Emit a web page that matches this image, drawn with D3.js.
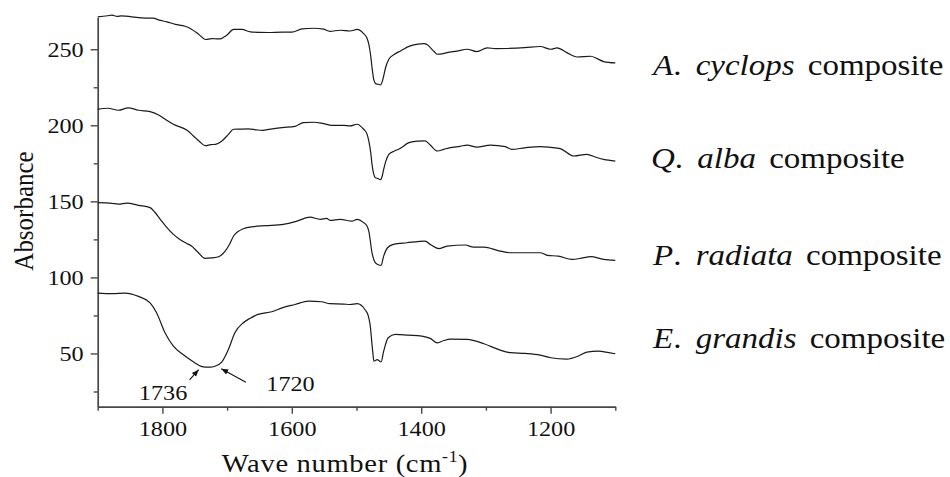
<!DOCTYPE html>
<html>
<head>
<meta charset="utf-8">
<script src="https://cdn.jsdelivr.net/npm/d3@7/dist/d3.min.js"></script>
<style>
  html, body { margin: 0; padding: 0; background: #fff; }
  svg { display: block; font-family: "Liberation Serif", "Times New Roman", serif; }
</style>
</head>
<body>
<svg id="chart" width="950" height="477"></svg>
<script>
// FTIR spectra of four wood–polymer composites (wave number in cm-1, absorbance offset per sample)
const cyclopsWave = [1900,1885,1878,1870,1863,1850,1837,1825,1814,1806,1793,1780,1765,1755,1744,1733,1724,1716,1711,1705,1700,1690,1677,1664,1650,1636,1615,1600,1584,1566,1551,1541,1525,1510,1499,1489,1484,1481,1478,1476,1473,1470,1466,1463,1460,1458,1455,1450,1442,1432,1417,1405,1396,1390,1386,1380,1375,1368,1360,1345,1329,1314,1298,1285,1267,1240,1216,1200,1190,1175,1159,1138,1128,1118,1100];
const cyclopsAbs  = [271.3,272.0,272.4,271.6,271.9,271.5,270.8,270.5,270.4,269.3,268.0,266.4,265.1,263.2,259.9,256.4,257.0,256.8,256.8,258.0,259.4,263.0,263.0,261.4,261.1,261.0,261.3,261.2,263.4,263.8,263.2,261.8,262.5,262.0,263.0,260.3,257.5,253.3,245.5,238.0,229.5,227.2,227.0,226.5,229.0,232.4,238.0,243.4,246.5,248.9,252.2,253.4,253.7,252.8,251.1,248.5,246.7,247.0,247.8,248.8,250.0,248.5,250.9,250.4,250.5,251.0,251.8,250.0,250.9,247.8,244.9,245.4,243.8,241.9,241.0];

const albaWave = [1900,1884,1868,1853,1837,1819,1806,1795,1783,1762,1752,1743,1734,1725,1718,1708,1698,1690,1680,1667,1655,1646,1630,1615,1595,1582,1566,1551,1538,1520,1510,1499,1489,1484,1481,1478,1476,1471,1467,1463,1460,1458,1455,1450,1442,1432,1419,1405,1394,1386,1375,1365,1355,1340,1329,1314,1293,1270,1260,1240,1216,1200,1185,1164,1144,1130,1118,1100];
const albaAbs  = [210.5,211.2,209.9,211.4,209.9,209.0,206.8,203.8,200.7,196.7,193.0,189.5,186.6,187.3,187.5,189.7,194.0,197.4,197.5,197.6,197.0,196.7,197.7,198.5,199.3,201.7,202.0,201.1,200.0,200.0,199.6,200.7,197.4,194.5,189.7,182.0,174.3,165.6,165.0,164.3,167.0,171.0,176.0,180.9,183.0,184.9,188.6,189.6,189.7,187.0,183.1,184.2,185.3,186.2,187.0,185.7,187.0,186.0,184.2,185.2,186.0,185.5,184.7,179.8,180.9,179.0,177.6,176.5];

const radiataWave = [1900,1878,1868,1855,1837,1819,1812,1803,1793,1783,1773,1763,1755,1745,1734,1724,1713,1703,1696,1690,1675,1659,1640,1613,1592,1572,1556,1546,1541,1525,1507,1499,1489,1484,1481,1476,1471,1467,1462,1458,1452,1443,1422,1394,1386,1373,1360,1332,1319,1303,1280,1262,1216,1205,1188,1167,1150,1138,1118,1100];
const radiataAbs  = [149.1,148.7,148.2,148.9,147.4,145.9,143.0,138.0,132.7,128.3,125.0,122.5,120.6,116.5,112.5,112.8,113.6,117.3,122.0,127.2,132.0,133.4,134.0,134.9,137.0,139.6,138.2,138.8,137.5,138.2,137.0,138.2,136.0,134.0,130.5,116.2,109.7,108.5,107.9,114.0,119.5,121.7,122.8,123.9,121.7,118.9,120.6,121.3,119.9,119.9,117.5,116.2,116.2,114.5,114.0,111.8,112.8,113.6,111.8,111.2];

const grandisWave = [1900,1878,1858,1837,1819,1809,1796,1783,1768,1750,1740,1734,1726,1719,1708,1698,1688,1675,1665,1652,1631,1615,1595,1574,1554,1541,1520,1510,1499,1487,1482,1479,1475,1473,1468,1465,1462,1458,1451,1440,1420,1399,1386,1375,1365,1355,1329,1303,1280,1262,1240,1216,1200,1175,1157,1144,1126,1110,1100];
const grandisAbs  = [89.7,89.3,89.7,87.5,83.3,76.8,63.6,54.8,49.3,43.9,41.5,41.0,41.0,41.6,44.5,52.6,63.6,70.2,73.0,75.7,77.4,80.0,82.2,84.4,84.0,82.7,82.5,82.2,82.7,78.9,75.0,69.0,51.5,44.9,46.0,45.2,44.5,51.5,60.3,62.5,62.0,61.4,59.9,57.0,58.5,59.4,59.2,56.4,52.5,50.5,50.0,48.9,47.2,46.3,48.3,50.9,51.5,50.5,49.8];

const sampleGenus   = ["A", "Q", "P", "E"];
const sampleSpecies = ["cyclops", "alba", "radiata", "grandis"];

const waveTicks      = [1800, 1600, 1400, 1200];
const waveMinorTicks = [1900, 1700, 1500, 1300, 1100];
const absTicks       = [50, 100, 150, 200, 250];
const absMinorTicks  = [25, 75, 125, 175, 225];

// carbonyl band positions marked on the E. grandis spectrum
const peakLabels = ["1736", "1720"];

const series = [
  { wave: cyclopsWave, abs: cyclopsAbs },
  { wave: albaWave,    abs: albaAbs },
  { wave: radiataWave, abs: radiataAbs },
  { wave: grandisWave, abs: grandisAbs }
];

const svg = d3.select("#chart");
const plot = { left: 97.7, right: 615.3, top: 17.3, bottom: 406.7 };
const stretch = 1.1;   // slightly wide type, as in the printed figure

const x = d3.scaleLinear().domain([1900, 1100]).range([plot.left, plot.right]);
const y = d3.scaleLinear().domain([15, 271]).range([plot.bottom, plot.top]);

const axisColor = "#474747";

// ---- axes ----
function styleAxis(g) {
  g.select(".domain").attr("stroke", axisColor).attr("stroke-width", 1.7);
  g.selectAll(".tick line").attr("stroke", axisColor).attr("stroke-width", 1.4);
}

const xAxisG = svg.append("g")
  .attr("transform", `translate(0,${plot.bottom})`)
  .call(d3.axisBottom(x).tickValues(waveTicks).tickSize(7).tickSizeOuter(0).tickPadding(7).tickFormat(d3.format("d")));
styleAxis(xAxisG);
xAxisG.selectAll(".tick text")
  .attr("font-family", "Liberation Serif, Times New Roman, serif")
  .attr("font-size", 22).attr("fill", "#111")
  .each(function () {
    const t = d3.select(this);
    const ty = +t.attr("y");
    t.attr("y", 0).attr("transform", `translate(0,${ty}) scale(${stretch},1)`);
  });

svg.append("g")
  .attr("transform", `translate(0,${plot.bottom})`)
  .call(d3.axisBottom(x).tickValues(waveMinorTicks).tickSize(4).tickSizeOuter(0).tickFormat(""))
  .call(g => { g.select(".domain").remove(); g.selectAll(".tick line").attr("stroke", axisColor).attr("stroke-width", 1.4); });

const yAxisG = svg.append("g")
  .attr("transform", `translate(${plot.left},0)`)
  .call(d3.axisLeft(y).tickValues(absTicks).tickSize(7).tickSizeOuter(0).tickPadding(7).tickFormat(d3.format("d")));
styleAxis(yAxisG);
yAxisG.selectAll(".tick text")
  .attr("font-family", "Liberation Serif, Times New Roman, serif")
  .attr("font-size", 22).attr("fill", "#111")
  .each(function () {
    const t = d3.select(this);
    const tx = +t.attr("x");
    t.attr("x", 0).attr("transform", `translate(${tx},0) scale(${stretch},1)`);
  });

svg.append("g")
  .attr("transform", `translate(${plot.left},0)`)
  .call(d3.axisLeft(y).tickValues(absMinorTicks).tickSize(4).tickSizeOuter(0).tickFormat(""))
  .call(g => { g.select(".domain").remove(); g.selectAll(".tick line").attr("stroke", axisColor).attr("stroke-width", 1.4); });

// ---- axis titles ----
const xTitle = svg.append("text")
  .attr("transform", `translate(345,472) scale(${stretch},1)`)
  .attr("text-anchor", "middle")
  .attr("font-size", 26).attr("letter-spacing", 0.6).attr("fill", "#111");
xTitle.append("tspan").text("Wave number (cm");
xTitle.append("tspan").attr("font-size", 16).attr("dy", -10).text("-1");
xTitle.append("tspan").attr("dy", 10).text(")");

svg.append("text")
  .attr("transform", `translate(33,211) rotate(-90) scale(1,${stretch})`)
  .attr("text-anchor", "middle")
  .attr("font-size", 25).attr("fill", "#111")
  .text("Absorbance");

// ---- spectra ----
const line = d3.line()
  .x(d => x(d[0]))
  .y(d => y(d[1]))
  .curve(d3.curveMonotoneX);

svg.append("g").selectAll("path")
  .data(series)
  .join("path")
  .attr("d", s => line(s.wave.map((w, i) => [w, s.abs[i]])))
  .attr("fill", "none")
  .attr("stroke", "#1a1a1a")
  .attr("stroke-width", 1.2)
  .attr("stroke-linejoin", "round");

// ---- sample names ----
const labelBaselines = [75, 168, 265, 348];
const labelX = [653, 651, 653, 653];
sampleGenus.forEach((g, i) => {
  const t = svg.append("text")
    .attr("transform", `translate(${labelX[i]},${labelBaselines[i]}) scale(${stretch},1)`)
    .attr("font-size", 30).attr("fill", "#111");
  t.append("tspan").attr("font-style", "italic").text(g);
  t.append("tspan").text(".");
  t.append("tspan").attr("font-style", "italic").attr("dx", 13).text(sampleSpecies[i]);
  t.append("tspan").attr("dx", 12).text("composite");
});

// ---- peak annotations ----
svg.append("defs").append("marker")
  .attr("id", "head")
  .attr("viewBox", "0 0 10 10")
  .attr("refX", 10).attr("refY", 5)
  .attr("markerWidth", 7).attr("markerHeight", 7)
  .attr("markerUnits", "userSpaceOnUse")
  .attr("orient", "auto")
  .append("path").attr("d", "M0,1 L10,5 L0,9 Z").attr("fill", "#111");

const arrows = [
  { from: [1758, 32.6], to: [1744, 39.3] },
  { from: [1671, 31.1], to: [1709, 40.0] }
];
svg.append("g").selectAll("line")
  .data(arrows)
  .join("line")
  .attr("x1", d => x(d.from[0])).attr("y1", d => y(d.from[1]))
  .attr("x2", d => x(d.to[0])).attr("y2", d => y(d.to[1]))
  .attr("stroke", "#111").attr("stroke-width", 1.1)
  .attr("marker-end", "url(#head)");

const peakTextPos = [[1799, 19.4], [1602, 25.0]];
peakLabels.forEach((lbl, i) => {
  svg.append("text")
    .attr("transform", `translate(${x(peakTextPos[i][0])},${y(peakTextPos[i][1])}) scale(${stretch},1)`)
    .attr("text-anchor", "middle")
    .attr("font-size", 22).attr("fill", "#111")
    .text(lbl);
});
</script>
</body>
</html>
